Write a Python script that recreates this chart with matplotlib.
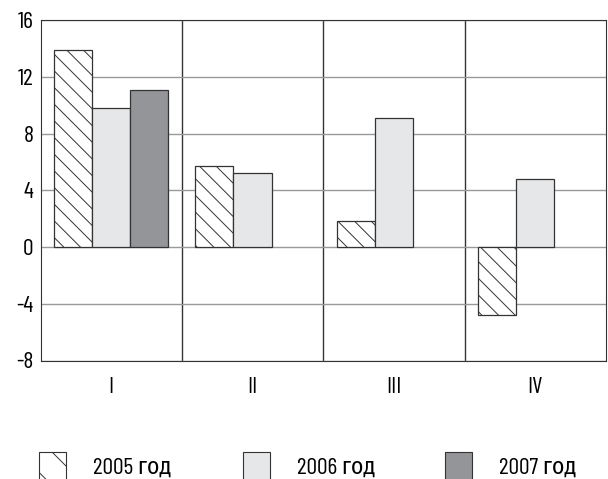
import numpy as np
import matplotlib.pyplot as plt
from matplotlib.patches import Patch

quarters = ['I', 'II', 'III', 'IV']
years = ['2005 год', '2006 год', '2007 год']
v2005 = [13.9, 5.7, 1.8, -4.8]
v2006 = [9.8, 5.2, 9.1, 4.8]
v2007 = [11.1, np.nan, np.nan, np.nan]

plt.rcParams['font.family'] = ['Barlow Condensed', 'Fira Sans Condensed', 'DejaVu Sans']
plt.rcParams['axes.unicode_minus'] = False
plt.rcParams['hatch.color'] = '#555555'
plt.rcParams['hatch.linewidth'] = 0.7

fig = plt.figure(figsize=(6.08, 4.79), dpi=100)
ax = fig.add_axes([40.5 / 608, 1 - 360.5 / 479, 565.5 / 608, 340.5 / 479])

x = np.arange(len(quarters))
w = 0.27
edge = '#333333'
ax.bar(x - w, v2005, w, color='white', edgecolor=edge, hatch='\\\\', lw=0.9, zorder=3)
ax.bar(x, v2006, w, color='#e6e7e8', edgecolor=edge, lw=0.9, zorder=3)
ax.bar(x + w, v2007, w, color='#939598', edgecolor=edge, lw=0.9, zorder=3)

ax.set_xlim(-0.5, len(quarters) - 0.5)
ax.set_ylim(-8, 16)
ax.set_yticks(np.arange(-8, 17, 4))
ax.set_xticks(x)
ax.set_xticklabels(quarters)
ax.tick_params(axis='x', length=0, pad=12, labelsize=17)
ax.tick_params(axis='y', length=0, labelsize=17, pad=5)
ax.yaxis.grid(True, color='#999999', lw=1, zorder=0)
for b in x[:-1] + 0.5:
    ax.axvline(b, color='#333333', lw=1, zorder=1)
for s in ax.spines.values():
    s.set_color('#333333')

handles = [Patch(facecolor='white', edgecolor=edge, hatch='\\', lw=0.8),
           Patch(facecolor='#e6e7e8', edgecolor=edge, lw=0.8),
           Patch(facecolor='#939598', edgecolor=edge, lw=0.8)]
for h, lab, xl in zip(handles, years, [39, 243, 445]):
    fig.legend([h], [lab], loc='upper left', bbox_to_anchor=(xl / 608, 1 - 452 / 479),
               frameon=False, fontsize=17, handlelength=1.15, handleheight=1.5,
               handletextpad=1.15, borderaxespad=0, borderpad=0)

fig.savefig('out.png', dpi=100)
